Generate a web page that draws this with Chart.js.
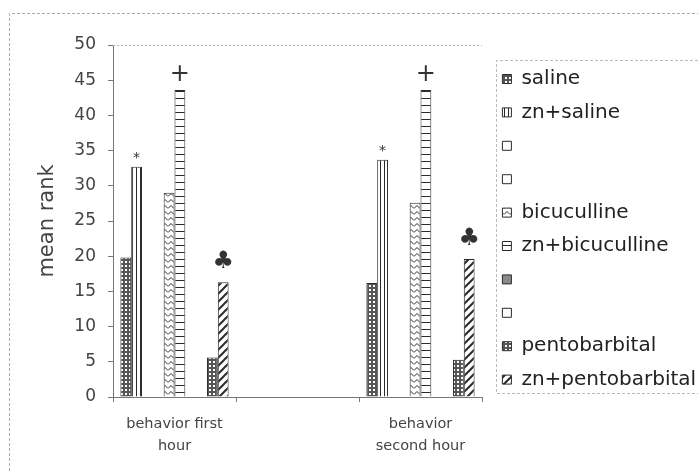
<!DOCTYPE html>
<html>
<head>
<meta charset="utf-8">
<script src="https://cdn.jsdelivr.net/npm/chart.js@4.4.1/dist/chart.umd.min.js"></script>
<style>
  html, body { margin: 0; padding: 0; background: #fff; }
  #wrap { width: 698px; height: 471px; }
</style>
</head>
<body>
<div id="wrap"><canvas id="chart" width="698" height="471"></canvas></div>
<script>
// categories (middle one is an empty spacer column, as in the original sheet)
const categories = [['behavior first', 'hour'], '', ['behavior', 'second hour']];

// series values
const saline          = [19.8, null, 16.2];
const znSaline        = [32.7, null, 33.7];
const blank1          = [null, null, null];
const blank2          = [null, null, null];
const bicuculline     = [29.0, null, 27.6];
const znBicuculline   = [43.6, null, 43.6];
const blank3          = [null, null, null];
const blank4          = [null, null, null];
const pentobarbital   = [5.6, null, 5.3];
const znPentobarbital = [16.3, null, 19.6];

const yMin = 0, yMax = 50, yStep = 5;

// significance marks drawn above some bars
const markers = { 'zn+saline': '*', 'zn+bicuculline': '+', 'zn+pentobarbital': '\u2663' };

const ctx = document.getElementById('chart').getContext('2d');

function makePattern(w, h, draw) {
  const c = document.createElement('canvas');
  c.width = w; c.height = h;
  const g = c.getContext('2d');
  g.fillStyle = '#fff';
  g.fillRect(0, 0, w, h);
  g.strokeStyle = '#2a2a2a';
  g.fillStyle = '#2a2a2a';
  g.lineWidth = 1;
  draw(g);
  return ctx.createPattern(c, 'repeat');
}

const dots = makePattern(4, 4, g => {
  g.fillStyle = '#555';
  g.fillRect(0, 0, 4, 4);
  g.fillStyle = '#fff';
  g.fillRect(1, 1, 2, 2);
});
const vlines = makePattern(4, 1, g => { g.fillRect(0, 0, 1, 1); });
const chevron = makePattern(6, 6, g => {
  g.beginPath();
  g.moveTo(0, 4.5); g.lineTo(3, 1.5); g.lineTo(6, 4.5);
  g.stroke();
});
const hlines = makePattern(1, 7, g => { g.fillRect(0, 0, 1, 1); });
const diag = makePattern(8, 8, g => {
  g.lineWidth = 2;
  g.beginPath();
  g.moveTo(0, 8); g.lineTo(8, 0);
  g.moveTo(-1, 1); g.lineTo(1, -1);
  g.moveTo(7, 9); g.lineTo(9, 7);
  g.stroke();
});

function series(label, data, fill) {
  return { label, data, backgroundColor: fill, borderColor: '#2a2a2a', borderWidth: 1 };
}

const frame = {
  id: 'frame',
  beforeDraw(chart) {
    const c = chart.ctx;
    c.save();
    c.fillStyle = '#fff';
    c.fillRect(0, 0, chart.width, chart.height);
    c.restore();
  },
  afterDraw(chart) {
    const c = chart.ctx;
    const area = chart.chartArea;
    const lg = chart.legend;
    c.save();
    c.strokeStyle = '#aaa';
    c.lineWidth = 1;
    c.setLineDash([3, 2]);
    c.beginPath();
    c.moveTo(9.5, chart.height); c.lineTo(9.5, 13.5); c.lineTo(chart.width, 13.5);
    c.stroke();
    // dotted top edge of plot area
    c.strokeStyle = '#b5b5b5';
    c.setLineDash([2, 2]);
    c.beginPath();
    c.moveTo(area.left, area.top + 0.5); c.lineTo(area.right, area.top + 0.5);
    c.stroke();
    // legend frame
    c.strokeStyle = '#bbb';
    c.setLineDash([3, 2]);
    c.beginPath();
    c.moveTo(chart.width, 60.5); c.lineTo(lg.left + 7.5, 60.5); c.lineTo(lg.left + 7.5, 393.5); c.lineTo(chart.width, 393.5);
    c.stroke();
    c.restore();
  }
};

const marks = {
  id: 'marks',
  afterDatasetsDraw(chart) {
    const c = chart.ctx;
    chart.data.datasets.forEach((ds, i) => {
      const m = markers[ds.label];
      if (!m) return;
      chart.getDatasetMeta(i).data.forEach((bar, j) => {
        if (ds.data[j] == null) return;
        c.save();
        c.fillStyle = '#333';
        c.textAlign = 'center';
        c.textBaseline = 'middle';
        if (m === '*') { c.font = '14px "DejaVu Sans"'; c.fillText(m, bar.x, bar.y - 8); }
        else if (m === '+') { c.font = '24px "DejaVu Sans"'; c.fillText(m, bar.x, bar.y - 15); }
        else { c.font = '24px "DejaVu Sans"'; c.fillText(m, bar.x, bar.y - 20); }
        c.restore();
      });
    });
  }
};

Chart.defaults.font.family = '"DejaVu Sans", sans-serif';

new Chart(ctx, {
  type: 'bar',
  data: {
    labels: categories,
    datasets: [
      series('saline', saline, dots),
      series('zn+saline', znSaline, vlines),
      series('', blank1, '#fff'),
      series('', blank2, '#fff'),
      series('bicuculline', bicuculline, chevron),
      series('zn+bicuculline', znBicuculline, hlines),
      series('', blank3, '#8a8a8a'),
      series('', blank4, '#fff'),
      series('pentobarbital', pentobarbital, dots),
      series('zn+pentobarbital', znPentobarbital, diag)
    ]
  },
  options: {
    responsive: false,
    animation: false,
    devicePixelRatio: 1,
    datasets: { bar: { categoryPercentage: 0.88, barPercentage: 1 } },
    layout: { padding: { left: 20, top: 45, right: 0, bottom: 14 } },
    plugins: {
      tooltip: { enabled: false },
      legend: {
        position: 'right',
        align: 'start',
        maxWidth: 209,
        title: { display: true, text: ' ', font: { size: 1 }, padding: { top: 9.4, bottom: 0 } },
        labels: {
          boxWidth: 9,
          boxHeight: 9,
          padding: 13.4,
          color: '#222',
          font: { size: 20 }
        }
      }
    },
    scales: {
      x: {
        grid: { drawOnChartArea: false, tickLength: 5, color: '#777' },
        border: { color: '#777' },
        ticks: { color: '#444', padding: 11, font: { size: 14.5, lineHeight: 1.55 }, maxRotation: 0, autoSkip: false },
        afterFit: s => { s.height = 60; }
      },
      y: {
        min: yMin,
        max: yMax,
        ticks: { stepSize: yStep, color: '#444', padding: 12, font: { size: 17 } },
        grid: { drawOnChartArea: false, tickLength: 5, color: '#777' },
        border: { color: '#777' },
        title: { display: true, text: 'mean rank', color: '#444', font: { size: 21 }, padding: { top: 15, bottom: 4 } },
        afterFit: s => { s.width = 93; }
      },
      gap: {
        position: 'right',
        display: true,
        grid: { display: false },
        border: { display: false },
        ticks: { display: false },
        afterFit: s => { s.width = 7; }
      }
    }
  },
  plugins: [frame, marks]
});
</script>
</body>
</html>
